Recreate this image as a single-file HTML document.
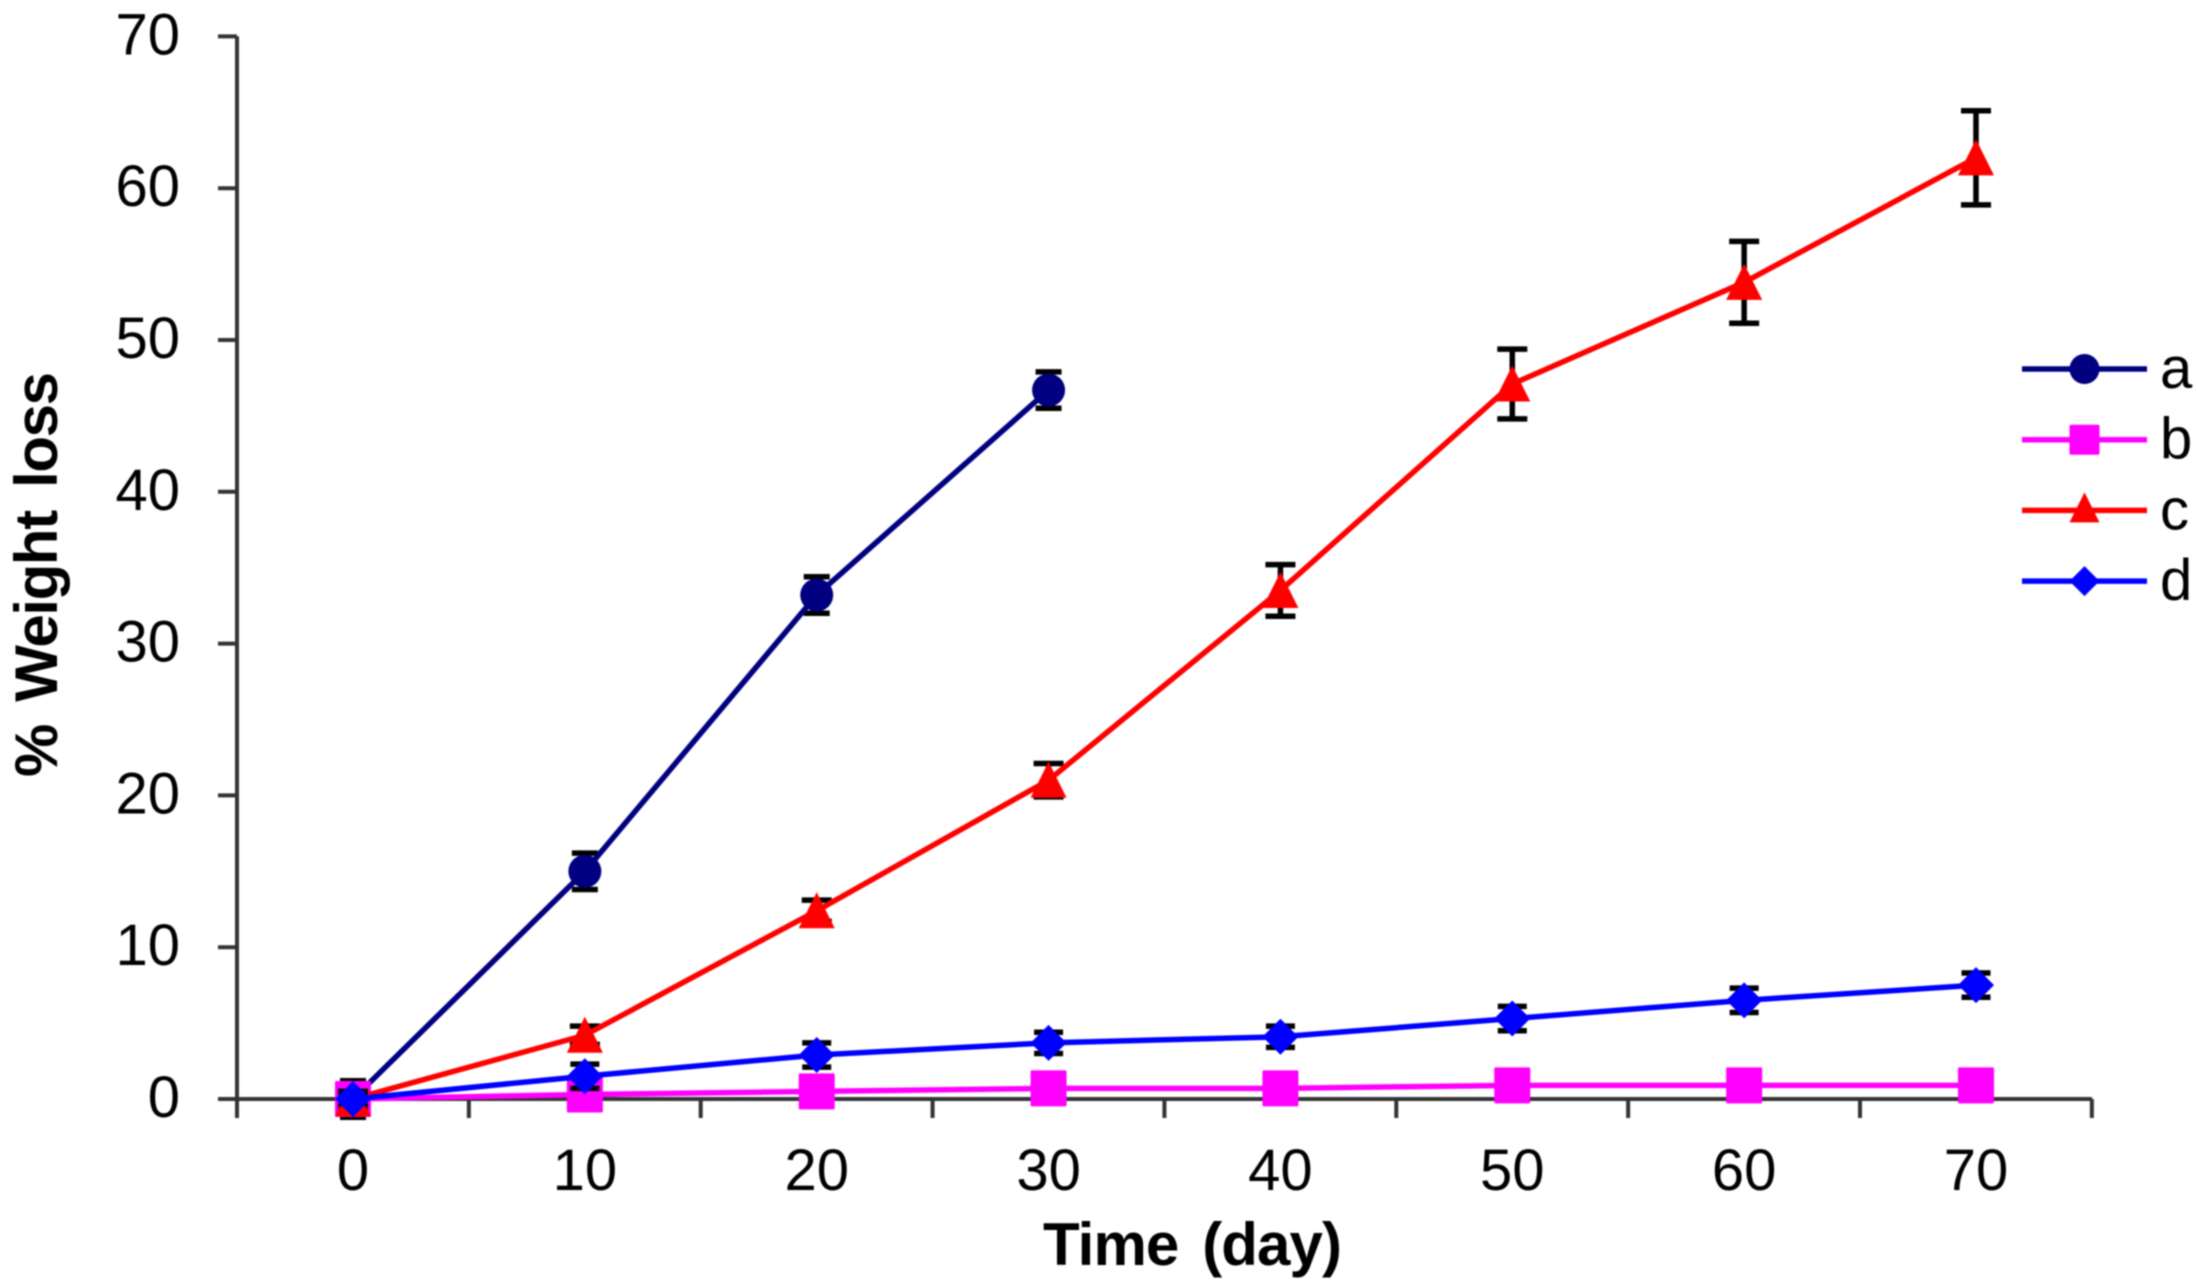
<!DOCTYPE html>
<html lang="en">
<head>
<meta charset="utf-8">
<title>% Weight loss over time</title>
<style>
  html, body { margin: 0; padding: 0; background: #fff; }
  body { width: 2196px; height: 1288px; overflow: hidden; }
  svg { display: block; filter: blur(0.7px); }
  text { font-family: "Liberation Sans", Arial, sans-serif; fill: #000; }
</style>
</head>
<body>
<svg id="chart" xmlns="http://www.w3.org/2000/svg" width="2196" height="1288" viewBox="0 0 2196 1288">
  <rect x="0" y="0" width="2196" height="1288" fill="#ffffff"/>
  <text x="1043" y="1265" font-size="60" font-weight="700" word-spacing="8" textLength="299" lengthAdjust="spacing">Time (day)</text>
  <text transform="translate(57,777) rotate(-90)" font-size="60" font-weight="700" word-spacing="8" textLength="405" lengthAdjust="spacing">% Weight loss</text>
</svg>
<script>
const days = [0, 10, 20, 30, 40, 50, 60, 70];
const yTickLabels = [0, 10, 20, 30, 40, 50, 60, 70];
const xTickLabels = [0, 10, 20, 30, 40, 50, 60, 70];
const seriesNames = ['a', 'b', 'c', 'd'];
const valuesA = [0, 15, 33.2, 46.7];
const errorsA = [1.2, 1.2, 1.2, 1.2];
const valuesB = [0, 0.3, 0.5, 0.7, 0.7, 0.9, 0.9, 0.9];
const errorsB = [0, 0, 0, 0, 0, 0, 0, 0];
const valuesC = [0, 4.2, 12.4, 21, 33.5, 47.1, 53.8, 62];
const errorsC = [0.5, 0.6, 0.7, 1.1, 1.7, 2.3, 2.7, 3.1];
const valuesD = [0, 1.5, 2.9, 3.7, 4.1, 5.3, 6.5, 7.5];
const errorsD = [0.3, 0.8, 0.8, 0.7, 0.7, 0.8, 0.8, 0.8];

const NS = 'http://www.w3.org/2000/svg';
const svg = document.getElementById('chart');

function xScale(v) { return 353 + (v / 70) * 1623; }
function yScale(v) { return 1099 - (v / 70) * 1062.6; }

function make(tag, attrs, parent) {
  const node = document.createElementNS(NS, tag);
  for (const k in attrs) node.setAttribute(k, attrs[k]);
  (parent || svg).appendChild(node);
  return node;
}

function markerAttrs(shape, cx, cy, s, color, circleR, triShift) {
  if (shape === 'circle') return ['circle', { cx: cx, cy: cy, r: circleR, fill: color }];
  if (shape === 'square') return ['rect', { x: cx - s, y: cy - s, width: 2 * s, height: 2 * s, rx: 1.5, fill: color }];
  if (shape === 'triangle') {
    const ty = cy + triShift;
    return ['polygon', { points: (cx - s) + ',' + (ty + s) + ' ' + (cx + s) + ',' + (ty + s) + ' ' + cx + ',' + (ty - s), fill: color }];
  }
  return ['polygon', { points: (cx - s) + ',' + cy + ' ' + cx + ',' + (cy - s) + ' ' + (cx + s) + ',' + cy + ' ' + cx + ',' + (cy + s), fill: color }];
}

// Axes
const axes = make('g', { stroke: '#333333', 'stroke-width': 4, fill: 'none' });



const yAxisLine = make('line', { x1: 237, y1: yScale(70), x2: 237, y2: 1118 }, axes);



const xAxisLine = make('line', { x1: 218, y1: yScale(0), x2: 2092, y2: yScale(0) }, axes);



yTickLabels.forEach(function (v) {
  const tick = make('line', { x1: 218, y1: yScale(v), x2: 237, y2: yScale(v) }, axes);
  
  
  const label = make('text', { x: 180, y: yScale(v) + 18, 'text-anchor': 'end', 'font-size': 58 });
  
  
  label.textContent = v;
});

for (let i = 0; i <= 8; i++) {
  const tx = xScale(i * 10) - 116;
  const tick = make('line', { x1: tx, y1: yScale(0), x2: tx, y2: 1118 }, axes);
  
  
}

xTickLabels.forEach(function (v) {
  const label = make('text', { x: xScale(v), y: 1190, 'text-anchor': 'middle', 'font-size': 58 });
  
  
  label.textContent = v;
});

// Series
const seriesValues = [valuesA, valuesB, valuesC, valuesD];
const seriesErrors = [errorsA, errorsB, errorsC, errorsD];
const seriesColors = ['#000080', '#ff00ff', '#ff0000', '#0000ff'];
const seriesShapes = ['circle', 'square', 'triangle', 'diamond'];
const capHalfWidths = [13, 13, 15, 14.5];

seriesNames.forEach(function (name, si) {
  const group = make('g', {});
  
  
  const cap = capHalfWidths[si];

  seriesValues[si].forEach(function (v, i) {
    const err = seriesErrors[si][i];
    if (!err) return;
    const cx = xScale(days[i]);
    const bar = make('path', {
      d: 'M' + cx + ' ' + yScale(v + err) + 'V' + yScale(v - err) +
         'M' + (cx - cap) + ' ' + yScale(v + err) + 'H' + (cx + cap) +
         'M' + (cx - cap) + ' ' + yScale(v - err) + 'H' + (cx + cap),
      stroke: '#000', 'stroke-width': 5.5, fill: 'none'
    }, group);
    
    
  });

  const pts = seriesValues[si].map(function (v, i) { return xScale(days[i]) + ',' + yScale(v); }).join(' ');
  const line = make('polyline', { points: pts, fill: 'none', stroke: seriesColors[si], 'stroke-width': 5.5, 'stroke-linejoin': 'round' }, group);
  
  

  seriesValues[si].forEach(function (v, i) {
    const m = markerAttrs(seriesShapes[si], xScale(days[i]), yScale(v), 18, seriesColors[si], 16.5, -0.5);
    const point = make(m[0], m[1], group);
    
    
  });
});

// Legend
const legend = make('g', {});



seriesNames.forEach(function (name, si) {
  const ly = 369 + si * 70.7;
  const entry = make('g', {}, legend);
  
  
  const swatchLine = make('line', { x1: 2022, y1: ly, x2: 2147, y2: ly, stroke: seriesColors[si], 'stroke-width': 5.5 }, entry);
  
  
  const m = markerAttrs(seriesShapes[si], 2084.5, ly, 15, seriesColors[si], 15, -3);
  const swatch = make(m[0], m[1], entry);
  
  
  const label = make('text', { x: 2160, y: ly + 19, 'font-size': 58 }, entry);
  
  
  label.textContent = name;
});
</script>
</body>
</html>
